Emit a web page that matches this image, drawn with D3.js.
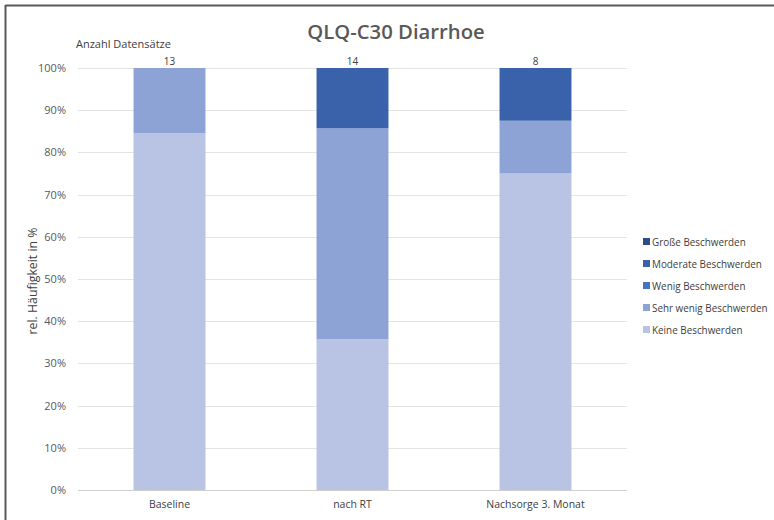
<!DOCTYPE html>
<html><head><meta charset="utf-8">
<script src="https://cdn.jsdelivr.net/npm/d3@7"></script>
<style>body{margin:0;background:#fff}svg{display:block}text{font-family:"Open Sans",sans-serif}</style>
</head><body><svg id="c" width="774" height="520"></svg>
<script>
const categories = ["Baseline", "nach RT", "Nachsorge 3. Monat"];
const counts = [13, 14, 8];
const seriesNames = ["Keine Beschwerden", "Sehr wenig Beschwerden", "Wenig Beschwerden", "Moderate Beschwerden", "Große Beschwerden"];
const keine = [0.846, 0.357, 0.75];
const sehrWenig = [0.154, 0.5, 0.125];
const wenig = [0, 0, 0];
const moderate = [0, 0.143, 0.125];
const grosse = [0, 0, 0];
const colors = ["#b9c3e3", "#8ea3d5", "#4472c4", "#3a62aa", "#2f4b8c"];
const yTicks = [0,0.1,0.2,0.3,0.4,0.5,0.6,0.7,0.8,0.9,1.0];

const seriesVals = [keine, sehrWenig, wenig, moderate, grosse];
const rows = categories.map((c,i)=>{const o={cat:c};seriesNames.forEach((s,j)=>o[s]=seriesVals[j][i]);return o;});
const stack = d3.stack().keys(seriesNames)(rows);

const svg = d3.select("#c");
// frame lines
svg.append("line").attr("x1",5.5).attr("x2",774).attr("y1",5.5).attr("y2",5.5).attr("stroke","#595959").attr("stroke-width",2);
svg.append("line").attr("x1",5.5).attr("x2",5.5).attr("y1",5).attr("y2",520).attr("stroke","#595959").attr("stroke-width",2);

const x = d3.scaleBand().domain(categories).range([78,627]).paddingInner(0.607).paddingOuter(0.3035);
const y = d3.scaleLinear().domain([0,1]).range([490,68]);

// gridlines
svg.append("g").selectAll("line").data(yTicks).join("line")
  .attr("x1",78).attr("x2",627).attr("y1",d=>Math.round(y(d))+0.5).attr("y2",d=>Math.round(y(d))+0.5)
  .attr("stroke",d=>d===0?"#d0d0d0":"#e3e3e3").attr("stroke-width",1);

// y tick labels
svg.append("g").selectAll("text").data(yTicks).join("text")
  .attr("x",66).attr("y",d=>y(d)+4).attr("text-anchor","end")
  .attr("font-size",11).attr("fill","#595959").text(d=>d3.format(".0%")(d));

// bars
svg.append("g").selectAll("g").data(stack).join("g").attr("fill",(d,i)=>colors[i])
  .selectAll("rect").data(d=>d).join("rect")
  .attr("x",d=>x(d.data.cat)).attr("width",x.bandwidth())
  .attr("y",d=>y(d[1])).attr("height",d=>y(d[0])-y(d[1]));

// counts
svg.append("g").selectAll("text").data(categories).join("text")
  .attr("x",d=>x(d)+x.bandwidth()/2).attr("y",65).attr("text-anchor","middle")
  .attr("font-size",10).attr("fill","#404040").text((d,i)=>counts[i]);

// x labels
svg.append("g").selectAll("text").data(categories).join("text")
  .attr("x",d=>x(d)+x.bandwidth()/2).attr("y",508).attr("text-anchor","middle")
  .attr("font-size",10.5).attr("fill","#404040").text(d=>d);

// title
svg.append("text").attr("x",396).attr("y",39).attr("text-anchor","middle")
  .attr("font-size",20.3).attr("font-weight",600).attr("fill","#595959").text("QLQ-C30 Diarrhoe");
svg.append("text").attr("x",76).attr("y",48).attr("font-size",11).attr("fill","#404040").text("Anzahl Datensätze");

// y axis title
svg.append("text").attr("transform","translate(37,281) rotate(-90)").attr("text-anchor","middle")
  .attr("font-size",12.3).attr("fill","#404040").text("rel. Häufigkeit in %");

// legend (reverse order)
const leg = seriesNames.map((s,i)=>({s,c:colors[i]})).reverse();
const lg = svg.append("g").selectAll("g").data(leg).join("g")
  .attr("transform",(d,i)=>`translate(643,${242+i*22})`);
lg.append("rect").attr("x",0).attr("y",-4).attr("width",7).attr("height",7).attr("fill",d=>d.c);
lg.append("text").attr("x",9).attr("y",3.5).attr("font-size",9.9).attr("fill","#404040").text(d=>d.s);
</script></body></html>
